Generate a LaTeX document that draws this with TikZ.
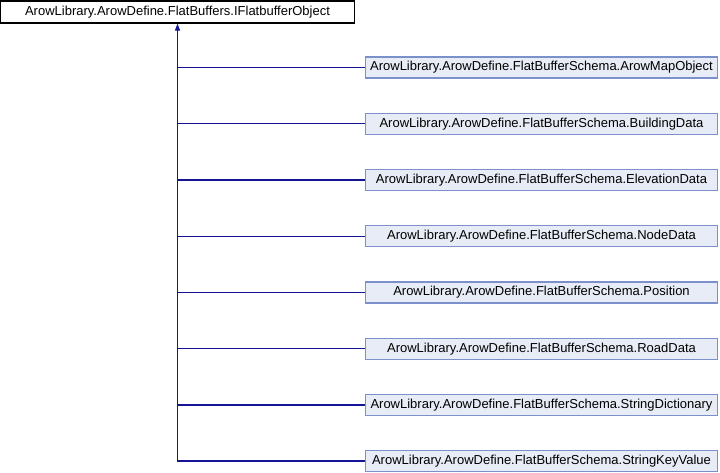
\documentclass[tikz,border=0pt]{standalone}
\usepackage{fontspec}
\setmainfont{Liberation Sans}
\usetikzlibrary{arrows.meta}
\definecolor{edgeblue}{RGB}{20,20,150}
\definecolor{boxfill}{RGB}{232,236,246}
\definecolor{boxline}{RGB}{124,144,204}
\begin{document}
\begin{tikzpicture}[x=1pt,y=-1pt,
  topbox/.style={draw=black,fill=white,line width=1.2pt,minimum width=354pt,minimum height=22pt,inner sep=0pt,font=\fontsize{13}{15}\selectfont},
  subbox/.style={draw=boxline,fill=boxfill,line width=1.2pt,minimum width=352pt,minimum height=21pt,inner sep=0pt,font=\fontsize{13}{15}\selectfont},
  edge/.style={draw=edgeblue,line width=1.2pt}]
\useasboundingbox (0,0) rectangle (720,472);
\node[topbox] (top) at (177.5,12) {ArowLibrary.ArowDefine.FlatBuffers.IFlatbufferObject};
\node[subbox] (b1) at (541.5,67.5) {ArowLibrary.ArowDefine.FlatBufferSchema.ArowMapObject};
\node[subbox] (b2) at (541.5,123.8) {ArowLibrary.ArowDefine.FlatBufferSchema.BuildingData};
\node[subbox] (b3) at (541.5,180) {ArowLibrary.ArowDefine.FlatBufferSchema.ElevationData};
\node[subbox] (b4) at (541.5,236.3) {ArowLibrary.ArowDefine.FlatBufferSchema.NodeData};
\node[subbox] (b5) at (541.5,292.5) {ArowLibrary.ArowDefine.FlatBufferSchema.Position};
\node[subbox] (b6) at (541.5,348.8) {ArowLibrary.ArowDefine.FlatBufferSchema.RoadData};
\node[subbox] (b7) at (541.5,405) {ArowLibrary.ArowDefine.FlatBufferSchema.StringDictionary};
\node[subbox] (b8) at (541.5,461) {ArowLibrary.ArowDefine.FlatBufferSchema.StringKeyValue};
\draw[edge,{Triangle[width=5pt,length=7pt]}-] (top.south) |- (b8.west);
\foreach \b in {b1,b2,b3,b4,b5,b6,b7}
  \draw[edge] (top.south |- \b.west) -- (\b.west);
\end{tikzpicture}
\end{document}
